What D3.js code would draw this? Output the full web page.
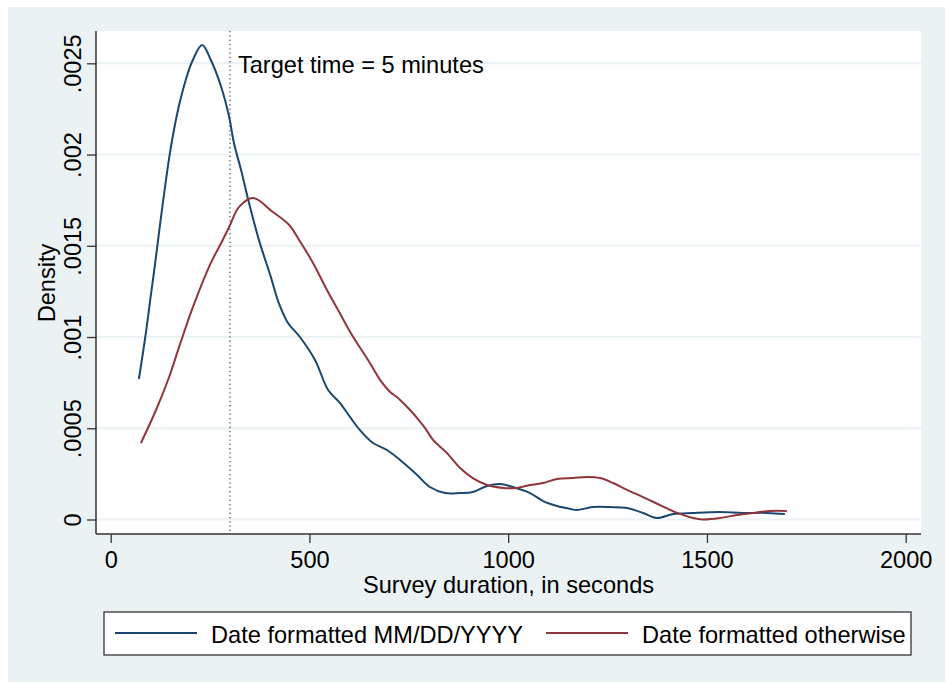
<!DOCTYPE html>
<html>
<head>
<meta charset="utf-8">
<script src="https://cdn.jsdelivr.net/npm/d3@7"></script>
<style>
  body { margin: 0; background: #fff; }
  text { font-family: "Liberation Sans", Arial, Helvetica, sans-serif; fill: #000; }
</style>
</head>
<body>
<script>
// survey duration (seconds) and kernel density
var mmddDuration = [71, 89, 101, 111, 122, 134, 147, 157, 172, 189, 205, 230, 252, 278, 298, 310, 328, 348, 373, 403,
  423, 446, 476, 514, 547, 577, 602, 627, 660, 695, 728, 771, 803, 841, 879, 911, 947, 979, 1012, 1055,
  1088, 1123, 1156, 1173, 1213, 1256, 1299, 1339, 1374, 1415, 1465, 1533, 1591, 1651, 1696];
var mmddDensity = [.000770, .00103, .00123, .00139, .00158, .00178, .00198, .00211, .00227, .00241, .00251, .00260, .002518, .002370, .002206, .002063, .001915, .001734, .001531, .001328,
  .001186, .001077, .001000, .000874, .000710, .000638, .000562, .000490, .000419, .000381, .000326, .000244, .000178, .000145, .000145, .000151, .000184, .000195, .000178, .000145,
  .000101, .000074, .000058, .000052, .000068, .000068, .000063, .000036, .000008, .000030, .000036, .000041, .000036, .000036, .000030];

var otherDuration = [76, 114, 147, 172, 207, 252, 278, 298, 323, 358, 408, 449, 474, 509, 544, 572, 607, 652, 678, 703,
  720, 736, 753, 771, 791, 811, 846, 879, 911, 947, 987, 1022, 1055, 1088, 1123, 1163, 1198, 1231, 1264, 1299,
  1339, 1382, 1425, 1465, 1490, 1533, 1576, 1616, 1659, 1701];
var otherDensity = [.000419, .000600, .000781, .000945, .001165, .001406, .001515, .001603, .001713, .001762, .001685, .001614, .001532, .001406, .001258, .001148, .001011, .000858, .000764, .000699,
  .000671, .000638, .000600, .000556, .000501, .000436, .000364, .000282, .000227, .000189, .000173, .000173, .000189, .000200, .000222, .000227, .000233, .000227, .000200, .000162,
  .000123, .000079, .000036, .000008, .000000, .000008, .000025, .000036, .000047, .000047];

var xTicks = [0, 500, 1000, 1500, 2000];
var yTicks = [0, .0005, .001, .0015, .002, .0025];
var yTickLabels = ["0", ".0005", ".001", ".0015", ".002", ".0025"];
var seriesNames = ["Date formatted MM/DD/YYYY", "Date formatted otherwise"];
var targetTime = 300;

var blue = "#1a476f", red = "#90353b", bg = "#eaf2f3";
var fs = "23.6px";

var svg = d3.select("body").append("svg")
  .attr("width", 945)
  .attr("height", 682)

svg.append("rect").attr("x", 8).attr("y", 7).attr("width", 937).attr("height", 675).style("fill", bg)

var plotL = 96, plotR = 921, plotT = 31, plotB = 534;
svg.append("rect").attr("x", plotL).attr("y", plotT).attr("width", plotR - plotL).attr("height", plotB - plotT).style("fill", "#fff")

var x = d3.scaleLinear().domain([0, 2000]).range([110.7, 905.7]);
var y = d3.scaleLinear().domain([0, .0025]).range([519.5, 63.3]);

// grid lines
svg.selectAll("line.grid")
  .data(yTicks)
  .enter()
  .append("line")
  .attr("class", "grid")
  .attr("x1", plotL).attr("x2", plotR)
  .attr("y1", function(d) { return y(d) })
  .attr("y2", function(d) { return y(d) })
  .style("stroke", bg)
  .style("stroke-width", 2)

// x axis
var xAxis = svg.append("g")
  .attr("transform", "translate(0," + plotB + ")")
  .call(d3.axisBottom(x).tickValues(xTicks).tickSize(9).tickPadding(0).tickFormat(d3.format("d")))
xAxis.select(".domain").remove()
xAxis.selectAll("line").style("stroke", "#333").style("stroke-width", 1.3)
xAxis.selectAll("text").attr("dy", null).attr("y", 34).style("font-size", fs).style("font-family", null)
svg.append("line").attr("x1", plotL).attr("x2", plotR).attr("y1", plotB).attr("y2", plotB)
  .style("stroke", "#333").style("stroke-width", 1.5)

// y axis
var yAxis = svg.append("g")
  .attr("transform", "translate(" + plotL + ",0)")
  .call(d3.axisLeft(y).tickValues(yTicks).tickSize(9).tickFormat(function(d, i) { return yTickLabels[i] }))
yAxis.select(".domain").remove()
yAxis.selectAll("line").style("stroke", "#333").style("stroke-width", 1.3)
yAxis.selectAll("text")
  .attr("x", null).attr("dy", null)
  .attr("text-anchor", "middle")
  .attr("transform", "translate(-15,0) rotate(-90)")
  .style("font-size", fs).style("font-family", null)
svg.append("line").attr("x1", plotL).attr("x2", plotL).attr("y1", plotT).attr("y2", plotB)
  .style("stroke", "#333").style("stroke-width", 1.5)

// axis titles
svg.append("text").attr("x", (plotL + plotR) / 2).attr("y", 593).attr("text-anchor", "middle")
  .style("font-size", fs).text("Survey duration, in seconds")
svg.append("text").attr("transform", "translate(55,283) rotate(-90)").attr("text-anchor", "middle")
  .style("font-size", fs).text("Density")

// target line
svg.append("line")
  .attr("x1", x(targetTime)).attr("x2", x(targetTime))
  .attr("y1", plotT).attr("y2", plotB)
  .style("stroke", "#555").style("stroke-width", 1.3).style("stroke-dasharray", "1.3,3")
svg.append("text").attr("x", x(targetTime) + 8).attr("y", 73)
  .style("font-size", fs).text("Target time = 5 minutes")

// density curves
var line = d3.line()
  .x(function(d) { return x(d[0]) })
  .y(function(d) { return y(d[1]) })
  .curve(d3.curveCatmullRom)

var series = [
  { color: blue, pts: d3.zip(mmddDuration, mmddDensity) },
  { color: red, pts: d3.zip(otherDuration, otherDensity) }
];
svg.selectAll("path.curve")
  .data(series)
  .enter()
  .append("path")
  .attr("class", "curve")
  .attr("d", function(d) { return line(d.pts) })
  .style("fill", "none")
  .style("stroke", function(d) { return d.color })
  .style("stroke-width", 2)

// legend
svg.append("rect").attr("x", 104).attr("y", 612).attr("width", 807).attr("height", 43)
  .style("fill", "#fff").style("stroke", "#333").style("stroke-width", 1.3)
var legendX = [115, 546];
var lg = svg.selectAll("g.leg")
  .data(seriesNames)
  .enter()
  .append("g")
  .attr("class", "leg")
  .attr("transform", function(d, i) { return "translate(" + legendX[i] + ",0)" })
lg.append("line").attr("x1", 0).attr("x2", 82).attr("y1", 633).attr("y2", 633)
  .style("stroke", function(d, i) { return series[i].color }).style("stroke-width", 2)
lg.append("text").attr("x", 96).attr("y", 643).style("font-size", fs).text(function(d) { return d })
</script>
</body>
</html>
